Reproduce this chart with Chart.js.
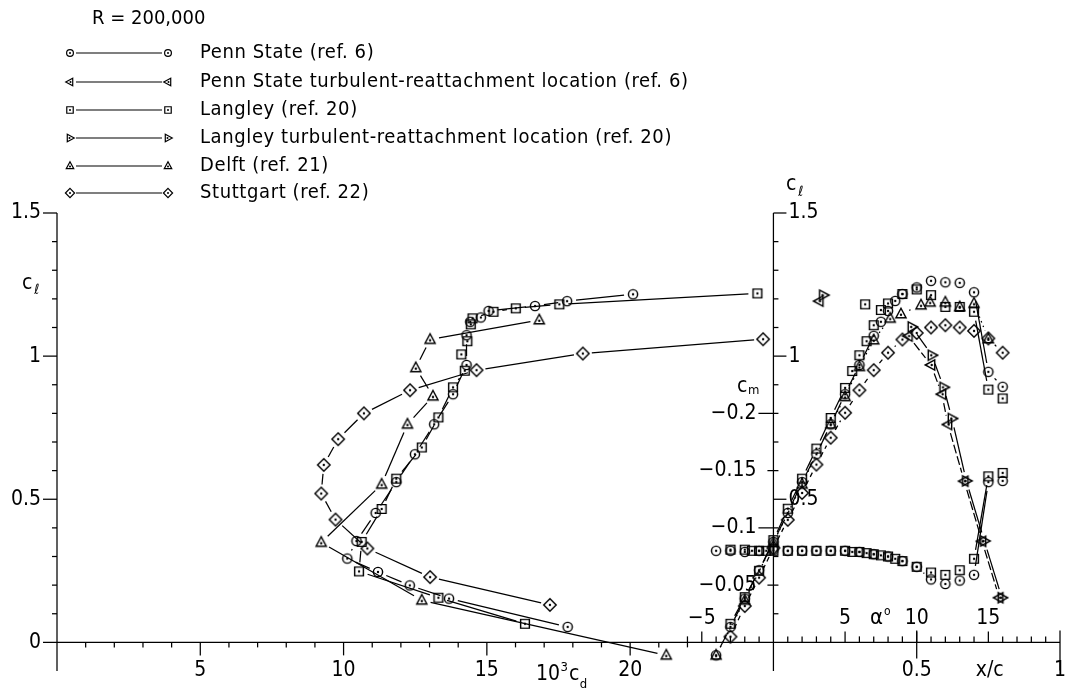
<!DOCTYPE html>
<html><head><meta charset="utf-8">
<script src="https://cdn.jsdelivr.net/npm/chart.js@4.4.1/dist/chart.umd.min.js"></script>
<style>html,body{margin:0;padding:0;background:#fff;}canvas{display:block;}</style>
</head><body>
<canvas id="c" width="1067" height="696"></canvas>
<script>
// ---------- DATA ----------
const titleText = 'R = 200,000';
const legendLabels = ['Penn State (ref. 6)', 'Penn State turbulent-reattachment location (ref. 6)', 'Langley (ref. 20)',
  'Langley turbulent-reattachment location (ref. 20)', 'Delft (ref. 21)', 'Stuttgart (ref. 22)'];
const legendMarkers = ['circle', 'triLeft', 'square', 'triRight', 'triUp', 'diamond'];

// drag polars (10^3 cd, cl)
const psPolarCd = [17.82, 13.68, 12.31, 11.20, 10.13, 10.45, 11.12, 11.84, 12.49, 13.16, 13.82, 14.29, 14.29, 14.42, 14.79, 15.06, 16.68, 17.80, 20.10];
const psPolarCl = [0.054, 0.153, 0.199, 0.246, 0.293, 0.354, 0.452, 0.560, 0.657, 0.762, 0.867, 0.969, 1.073, 1.120, 1.135, 1.158, 1.175, 1.192, 1.216];
const larcPolarCd = [16.33, 13.31, 10.54, 10.63, 11.33, 11.84, 12.73, 13.31, 13.82, 14.23, 14.11, 14.32, 14.44, 14.50, 15.23, 16.01, 17.53, 24.44];
const larcPolarCl = [0.065, 0.156, 0.248, 0.351, 0.466, 0.572, 0.681, 0.786, 0.891, 0.949, 1.006, 1.052, 1.111, 1.132, 1.155, 1.167, 1.181, 1.219];
const delftPolarCd = [21.26, 12.73, 9.22, 11.33, 12.23, 13.12, 12.52, 13.02, 16.83];
const delftPolarCl = [-0.045, 0.147, 0.349, 0.552, 0.762, 0.860, 0.959, 1.058, 1.126];
const stuttPolarCd = [17.20, 13.02, 10.83, 9.72, 9.22, 9.31, 9.81, 10.71, 12.32, 14.64, 18.35, 24.64];
const stuttPolarCl = [0.131, 0.228, 0.328, 0.429, 0.520, 0.620, 0.710, 0.800, 0.881, 0.951, 1.009, 1.059];

// lift curves (alpha deg, cl)
const psAlpha = [-4, -3, -2, -1, 0, 1, 2, 3, 4, 5, 6, 7, 7.5, 8, 8.5, 9, 10, 11, 12, 13, 14, 15, 16];
const psCl = [-0.045, 0.054, 0.153, 0.252, 0.351, 0.452, 0.560, 0.657, 0.762, 0.867, 0.969, 1.071, 1.120, 1.158, 1.193, 1.217, 1.240, 1.263, 1.258, 1.256, 1.223, 0.945, 0.893];
const larcAlpha = [-3, -2, -1, 0, 1, 2, 3, 4, 5, 5.5, 6, 6.5, 7, 7.5, 8, 9, 10, 11, 12, 13, 14, 15, 16];
const larcCl = [0.065, 0.158, 0.250, 0.357, 0.467, 0.572, 0.677, 0.784, 0.889, 0.948, 1.003, 1.052, 1.108, 1.161, 1.184, 1.217, 1.233, 1.213, 1.172, 1.172, 1.155, 0.883, 0.852];
const larcIsoAlpha = [6.4];
const larcIsoCl = [1.181];
const delftAlpha = [-4, -2, 0, 2, 4, 5, 6, 7, 8.15, 8.9, 10.3, 10.94, 12, 13, 14, 15];
const delftCl = [-0.045, 0.147, 0.349, 0.552, 0.762, 0.858, 0.963, 1.056, 1.132, 1.147, 1.178, 1.188, 1.188, 1.172, 1.184, 1.060];
const stuttAlpha = [-3, -2, -1, 0, 1, 2, 3, 4, 5, 6, 7, 8, 9, 10, 11, 12, 13, 14, 15, 16];
const stuttCl = [0.020, 0.127, 0.226, 0.330, 0.428, 0.522, 0.621, 0.715, 0.802, 0.881, 0.951, 1.012, 1.058, 1.081, 1.100, 1.108, 1.100, 1.088, 1.062, 1.012];

// pitching moment (alpha deg, cm)
const psCmAlpha = [-4, -3, -2, -1, 0, 1, 2, 3, 4, 5, 6, 7, 8, 9, 10, 11, 12, 13, 14, 15, 16];
const psCm = [-0.080, -0.080, -0.079, -0.080, -0.081, -0.080, -0.080, -0.080, -0.080, -0.080, -0.079, -0.077, -0.075, -0.071, -0.066, -0.055, -0.051, -0.054, -0.059, -0.140, -0.141];
const larcCmAlpha = [-3, -2, -1.5, -1, -0.5, 0, 1, 2, 3, 4, 5, 5.5, 6, 6.5, 7, 7.5, 8, 8.5, 9, 10, 11, 12, 13, 14, 15, 16];
const larcCm = [-0.081, -0.081, -0.080, -0.080, -0.080, -0.080, -0.080, -0.080, -0.080, -0.080, -0.080, -0.079, -0.079, -0.078, -0.077, -0.076, -0.075, -0.073, -0.071, -0.066, -0.061, -0.059, -0.063, -0.073, -0.145, -0.148];

// turbulent-reattachment location (x/c, cl)
const psReXc = [0.471, 0.550, 0.588, 0.609, 0.666, 0.728, 0.788];
const psReCl = [1.070, 0.969, 0.867, 0.761, 0.563, 0.353, 0.156];
const psReIsoXc = [0.160];
const psReIsoCl = [1.192];
const larcReXc = [0.483, 0.553, 0.594, 0.623, 0.673, 0.736, 0.797];
const larcReCl = [1.102, 1.003, 0.891, 0.782, 0.564, 0.354, 0.156];
const larcReIsoXc = [0.174];
const larcReIsoCl = [1.213];

// tick labels
const clTickValues = [0, 0.5, 1, 1.5];
const clTickLabels = ['0', '0.5', '1', '1.5'];
const cdTickValues = [5, 10, 15, 20];
const cdTickLabels = ['5', '10', '15', '20'];
const alphaTickValues = [-5, 5, 10, 15];
const alphaTickLabels = ['\u22125', '5', '10', '15'];
const xcTickValues = [0.5, 1];
const xcTickLabels = ['0.5', '1'];
const cmTickValues = [-0.05, -0.1, -0.15, -0.2];
const cmTickLabels = ['\u22120.05', '\u22120.1', '\u22120.15', '\u22120.2'];

// ---------- MARKERS ----------
function markerPath(ctx, type, x, y, s) {
  ctx.beginPath();
  let cx = x, cy = y;
  switch (type) {
    case 'circle': ctx.arc(x, y, s, 0, Math.PI * 2); break;
    case 'square': ctx.rect(x - s * 0.95, y - s * 0.95, s * 1.9, s * 1.9); break;
    case 'triUp':
      ctx.moveTo(x, y - 1.25 * s); ctx.lineTo(x + 1.1 * s, y + 0.8 * s); ctx.lineTo(x - 1.1 * s, y + 0.8 * s); ctx.closePath();
      cy = y + 0.15 * s; break;
    case 'triLeft':
      ctx.moveTo(x - 1.25 * s, y); ctx.lineTo(x + 0.8 * s, y - 1.1 * s); ctx.lineTo(x + 0.8 * s, y + 1.1 * s); ctx.closePath();
      cx = x + 0.15 * s; break;
    case 'triRight':
      ctx.moveTo(x + 1.25 * s, y); ctx.lineTo(x - 0.8 * s, y - 1.1 * s); ctx.lineTo(x - 0.8 * s, y + 1.1 * s); ctx.closePath();
      cx = x - 0.15 * s; break;
    case 'diamond':
      ctx.moveTo(x, y - 1.35 * s); ctx.lineTo(x + 1.35 * s, y); ctx.lineTo(x, y + 1.35 * s); ctx.lineTo(x - 1.35 * s, y); ctx.closePath(); break;
  }
  ctx.stroke();
  ctx.beginPath(); ctx.arc(cx, cy, s > 4 ? 1.2 : 1.0, 0, Math.PI * 2); ctx.fill();
}
function makeMarker(type, s) {
  const c = document.createElement('canvas');
  c.width = 18; c.height = 18;
  const g = c.getContext('2d');
  g.strokeStyle = '#000'; g.fillStyle = '#000'; g.lineWidth = 1.45;
  markerPath(g, type, 9, 9, s);
  return c;
}
const MK = {};
['circle', 'square', 'triUp', 'triLeft', 'triRight', 'diamond'].forEach(t => MK[t] = makeMarker(t, 4.6));

function pts(xs, ys) { return xs.map((x, i) => ({ x: x, y: ys[i] })); }
function ds(label, xs, ys, marker, xAxisID, yAxisID, dash) {
  return { label, data: pts(xs, ys), pointStyle: MK[marker], pointRadius: 5, pointHoverRadius: 5,
    xAxisID, yAxisID, showLine: false, clip: false, gapLine: dash };
}

const datasets = [
  ds('Penn State polar', psPolarCd, psPolarCl, 'circle', 'xCd', 'yCl', []),
  ds('Langley polar', larcPolarCd, larcPolarCl, 'square', 'xCd', 'yCl', []),
  ds('Delft polar', delftPolarCd, delftPolarCl, 'triUp', 'xCd', 'yCl', []),
  ds('Stuttgart polar', stuttPolarCd, stuttPolarCl, 'diamond', 'xCd', 'yCl', []),
  ds('Penn State cl', psAlpha, psCl, 'circle', 'xAl', 'yCl', []),
  ds('Langley cl', larcAlpha, larcCl, 'square', 'xAl', 'yCl', []),
  ds('Langley cl iso', larcIsoAlpha, larcIsoCl, 'square', 'xAl', 'yCl', null),
  ds('Delft cl', delftAlpha, delftCl, 'triUp', 'xAl', 'yCl', [1.5, 3.5]),
  ds('Stuttgart cl', stuttAlpha, stuttCl, 'diamond', 'xAl', 'yCl', [5, 4]),
  ds('Penn State cm', psCmAlpha, psCm, 'circle', 'xAl', 'yCm', []),
  ds('Langley cm', larcCmAlpha, larcCm, 'square', 'xAl', 'yCm', []),
  ds('Penn State reattachment', psReXc, psReCl, 'triLeft', 'xXc', 'yCl', [9, 3]),
  ds('Penn State reattachment iso', psReIsoXc, psReIsoCl, 'triLeft', 'xXc', 'yCl', null),
  ds('Langley reattachment', larcReXc, larcReCl, 'triRight', 'xXc', 'yCl', []),
  ds('Langley reattachment iso', larcReIsoXc, larcReIsoCl, 'triRight', 'xXc', 'yCl', null)
];

const FONT = '"DejaVu Sans Condensed", "DejaVu Sans", sans-serif';
const GAP = 9;

const gapLines = {
  id: 'gapLines',
  beforeDatasetsDraw(chart) {
    const ctx = chart.ctx;
    ctx.save(); ctx.strokeStyle = '#000'; ctx.lineWidth = 1.25;
    chart.data.datasets.forEach((d, i) => {
      if (!d.gapLine) return;
      const els = chart.getDatasetMeta(i).data;
      ctx.setLineDash(d.gapLine);
      for (let k = 0; k < els.length - 1; k++) {
        const a = els[k], b = els[k + 1];
        const dx = b.x - a.x, dy = b.y - a.y, L = Math.hypot(dx, dy);
        if (L <= 2 * GAP + 1) continue;
        const ux = dx / L, uy = dy / L;
        ctx.beginPath();
        ctx.moveTo(a.x + ux * GAP, a.y + uy * GAP);
        ctx.lineTo(b.x - ux * GAP, b.y - uy * GAP);
        ctx.stroke();
      }
    });
    ctx.restore();
  }
};

const axesPlugin = {
  id: 'nasaAxes',
  beforeDatasetsDraw(chart) {
    const ctx = chart.ctx, s = chart.scales;
    const X = v => s.xCd.getPixelForValue(v);
    const A = v => s.xAl.getPixelForValue(v);
    const XC = v => s.xXc.getPixelForValue(v);
    const Y = v => s.yCl.getPixelForValue(v);
    const M = v => s.yCm.getPixelForValue(v);
    ctx.save();
    ctx.strokeStyle = '#000'; ctx.fillStyle = '#000'; ctx.lineWidth = 1.25;
    const line = (x1, y1, x2, y2) => { ctx.beginPath(); ctx.moveTo(x1, y1); ctx.lineTo(x2, y2); ctx.stroke(); };
    const text = (t, x, y, size, align, base) => { ctx.font = size + 'px ' + FONT; ctx.textAlign = align || 'left'; ctx.textBaseline = base || 'middle'; ctx.fillText(t, x, y); return ctx.measureText(t).width; };
    const x0 = X(0), y0 = Y(0), yTop = Y(1.5), yBot = Y(-0.1), xr = A(0);

    // left cl axis
    line(x0, yTop, x0, yBot);
    for (let i = 1; i <= 15; i++) { const major = i % 5 === 0; line(x0 - (major ? 14 : 5), Y(i / 10), x0, Y(i / 10)); }
    line(x0 - 14, y0, x0, y0);
    clTickValues.forEach((v, i) => text(clTickLabels[i], x0 - 16, Y(v), 21, 'right'));
    text('c', 22, 289, 21, 'left', 'alphabetic');
    text('\u2113', 34, 294, 14, 'left', 'alphabetic');

    // baseline
    line(x0, y0, XC(1), y0);
    // cd ticks
    for (let v = 1; v <= 22; v++) { const major = v % 5 === 0; line(X(v), y0, X(v), y0 + (major ? 13 : 5)); }
    cdTickValues.forEach((v, i) => text(cdTickLabels[i], X(v), y0 + 28, 21, 'center'));
    let cx = 536;
    cx += text('10', cx, 680, 21, 'left', 'alphabetic') + 0.5;
    cx += text('3', cx, 671, 13, 'left', 'alphabetic') + 1;
    cx += text('c', cx, 680, 21, 'left', 'alphabetic') + 0.5;
    text('d', cx, 688, 13, 'left', 'alphabetic');

    // right axis
    line(xr, yTop, xr, yBot);
    for (let i = 1; i <= 15; i++) { const major = i % 5 === 0; line(xr, Y(i / 10), xr + (major ? 13 : 5), Y(i / 10)); }
    clTickValues.slice(1).forEach((v, i) => text(clTickLabels[i + 1], xr + 15, Y(v), 21, 'left'));
    text('c', 786, 190, 21, 'left', 'alphabetic');
    text('\u2113', 798, 196, 14, 'left', 'alphabetic');

    // cm ticks
    cmTickValues.forEach((v, i) => {
      const major = Math.abs(v * 100 % 10) < 1e-6;
      line(xr - (major ? 15 : 6), M(v), xr, M(v));
      text(cmTickLabels[i], xr - 17, M(v), 21, 'right');
    });
    let mx = 737;
    mx += text('c', mx, 392, 21, 'left', 'alphabetic') + 0.5;
    text('m', mx, 394, 13, 'left', 'alphabetic');

    // alpha ticks
    for (let a = -6; a <= 19; a++) {
      if (a === 0) continue;
      const major = a % 5 === 0;
      line(A(a), y0, A(a), y0 - (major ? 11 : 6));
    }
    alphaTickValues.forEach((v, i) => text(alphaTickLabels[i], A(v), y0 - 24, 21, 'center'));
    const aw = text('\u03b1', 870, y0 - 24, 22, 'left');
    text('o', 870 + aw + 1, y0 - 31, 12, 'left');

    // x/c ticks
    line(XC(0.5), y0 - 12, XC(0.5), y0 + 16);
    line(XC(1), y0 - 12, XC(1), y0 + 28);
    xcTickValues.forEach((v, i) => text(xcTickLabels[i], XC(v), y0 + 28, 21, 'center'));
    text('x/c', XC(0.755), y0 + 28, 21, 'center');

    // title + legend
    text(titleText, 92, 19, 20, 'left');
    const rows = [53, 82, 110, 138, 166, 193];
    ctx.lineWidth = 1.2;
    legendLabels.forEach((lab, i) => {
      const y = rows[i];
      line(76, y, 162, y);
      markerPath(ctx, legendMarkers[i], 70, y, 3.4);
      markerPath(ctx, legendMarkers[i], 168, y, 3.4);
      ctx.letterSpacing = '0.6px';
      text(lab, 200, y, 20, 'left');
      ctx.letterSpacing = '0px';
    });
    ctx.restore();
  }
};

new Chart(document.getElementById('c'), {
  type: 'scatter',
  data: { datasets },
  options: {
    responsive: false, animation: false, devicePixelRatio: 1,
    events: [],
    layout: { padding: { left: 57, right: 7, top: 213, bottom: 25 } },
    plugins: { legend: { display: false }, tooltip: { enabled: false }, title: { display: false } },
    scales: {
      xCd: { type: 'linear', axis: 'x', position: 'bottom', min: 0, max: 35, display: false },
      xAl: { type: 'linear', axis: 'x', position: 'bottom', min: -50, max: 20, display: false },
      xXc: { type: 'linear', axis: 'x', position: 'bottom', min: -2.5, max: 1, display: false },
      yCl: { type: 'linear', axis: 'y', position: 'left', min: -0.1, max: 1.5, display: false },
      yCm: { type: 'linear', axis: 'y', position: 'left', min: -0.375, max: 0.025, reverse: true, display: false }
    }
  },
  plugins: [axesPlugin, gapLines]
});
</script>
</body></html>
